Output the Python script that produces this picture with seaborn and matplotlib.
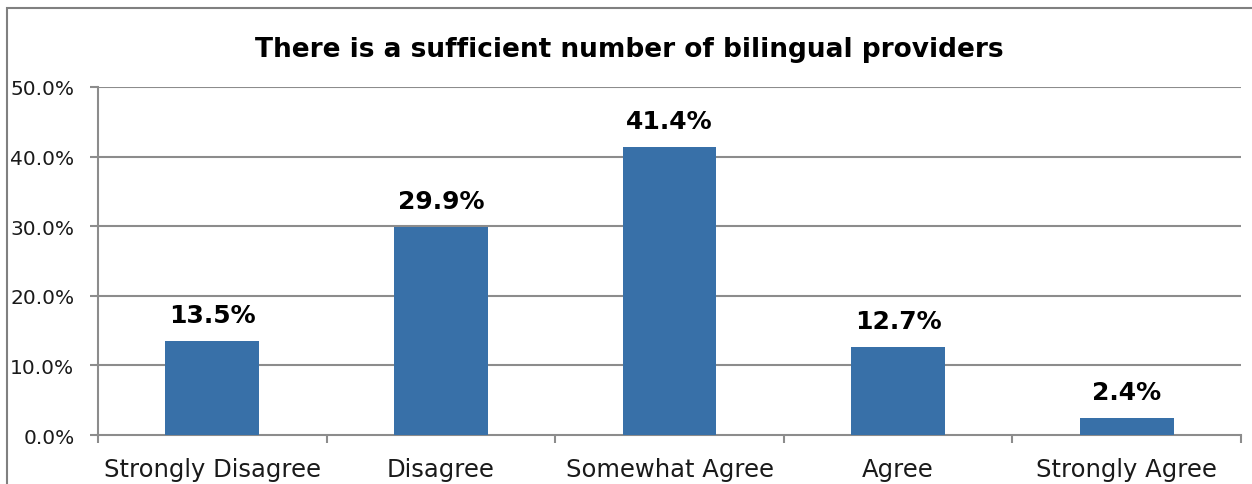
import matplotlib
matplotlib.use("Agg")
import matplotlib.pyplot as plt
import seaborn as sns
import pandas as pd
from matplotlib.patches import Rectangle

categories = ["Strongly Disagree", "Disagree", "Somewhat Agree", "Agree", "Strongly Agree"]
percentages = [13.5, 29.9, 41.4, 12.7, 2.4]
y_ticks = [0, 10, 20, 30, 40, 50]
title = "There is a sufficient number of bilingual providers"

sns.set_theme(style="white")
plt.rcParams["font.family"] = ["DejaVu Sans"]

df = pd.DataFrame({"category": categories, "pct": percentages})

fig = plt.figure(figsize=(12.52, 4.85), dpi=100)
ax = fig.add_axes([0.0783, 0.101, 0.9129, 0.7176])

bar_color = "#3870A8"
grid_color = "#8C8C8C"

sns.barplot(data=df, x="category", y="pct", color=bar_color, width=0.41,
            saturation=1, linewidth=0, ax=ax, zorder=3)

ax.set_ylim(0, 50)
ax.set_xlim(-0.5, len(categories) - 0.5)
ax.set_yticks(y_ticks)
ax.set_yticklabels([f"{v:.1f}%" for v in y_ticks], fontsize=14.5, color="#1a1a1a")
ax.set_xticks(range(len(categories)))
ax.set_xticklabels(categories, fontsize=17.5, color="#1a1a1a")
ax.set_xlabel("")
ax.set_ylabel("")

# horizontal gridlines
for v in y_ticks[1:]:
    ax.axhline(v, color=grid_color, lw=1.5, zorder=1)

for side in ["top", "right"]:
    ax.spines[side].set_visible(False)
for side in ["left", "bottom"]:
    ax.spines[side].set_color(grid_color)
    ax.spines[side].set_linewidth(1.5)

ax.tick_params(axis="y", which="major", length=6, width=1.5, color=grid_color,
               direction="out", left=True, pad=11)
ax.tick_params(axis="x", which="major", length=0, pad=16)

# category boundary tick marks below the axis
ax.set_xticks([i - 0.5 for i in range(len(categories) + 1)], minor=True)
ax.tick_params(axis="x", which="minor", length=6, width=1.5, color=grid_color,
               direction="out", bottom=True)

# value labels above bars
for i, v in enumerate(percentages):
    ax.annotate(f"{v:.1f}%", xy=(i, v), xytext=(0, 10), textcoords="offset points",
                ha="center", va="bottom", fontsize=18, fontweight="bold", color="#000000")

fig.suptitle(title, x=0.503, y=0.923, fontsize=19, fontweight="bold", color="#000000")

# chart-area border
fig.patches.append(Rectangle((7 / 1252, -0.1), 1.2, 1 - 9 / 485 + 0.1,
                             transform=fig.transFigure, fill=False,
                             edgecolor="#808080", lw=1.5, zorder=0))

fig.savefig("out.png", dpi=100)
